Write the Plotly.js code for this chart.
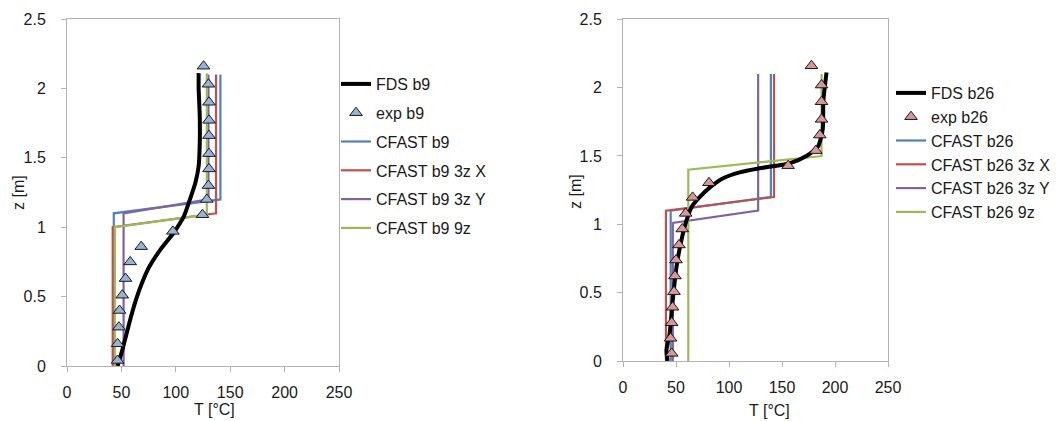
<!DOCTYPE html>
<html>
<head>
<meta charset="utf-8">
<script src="https://cdn.plot.ly/plotly-3.0.1.min.js"></script>
<style>html,body{margin:0;padding:0;background:#fff;}#chart{width:1056px;height:421px;}</style>
</head>
<body>
<div id="chart"></div>
<script>
// ---- Left chart (b9) ----
var fdsB9_T = [46.5, 51, 55, 59, 63.5, 69, 76, 86, 98, 107.5, 113, 118, 121, 122, 122, 121, 121];
var fdsB9_z = [0.0, 0.12, 0.24, 0.36, 0.48, 0.6, 0.72, 0.84, 0.96, 1.08, 1.2, 1.32, 1.44, 1.6, 1.8, 2.0, 2.11];

var expB9_T = [46.5, 46.5, 47.7, 48.3, 50.8, 53.8, 58.1, 68.2, 97.3, 124.5, 128.5, 130, 130.5, 130.5, 130.5, 130.5, 130.5, 130, 125.5];
var expB9_z = [0.04, 0.16, 0.28, 0.40, 0.51, 0.63, 0.75, 0.86, 0.97, 1.09, 1.20, 1.30, 1.42, 1.53, 1.66, 1.77, 1.90, 2.03, 2.16];

var cfastB9_T = [43, 43, 141, 141];
var cfastB9_z = [0, 1.1, 1.2, 2.1];
var cfastB9X_T = [42, 42, 137, 137];
var cfastB9X_z = [0, 1.0, 1.1, 2.1];
var cfastB9Y_T = [52, 52, 130, 130];
var cfastB9Y_z = [0, 1.1, 1.2, 2.1];
var cfastB99z_T = [44, 44, 128.5, 128.5];
var cfastB99z_z = [0, 1.0, 1.09, 2.11];

// ---- Right chart (b26) ----
var fdsB26_T = [42, 41, 44, 47, 50.5, 55, 60, 65, 72.5, 82, 94, 110, 129, 157, 173, 184, 188.5, 189, 192];
var fdsB26_z = [0, 0.08, 0.2, 0.45, 0.69, 0.88, 1.03, 1.13, 1.2, 1.27, 1.335, 1.38, 1.41, 1.446, 1.5, 1.57, 1.7, 1.9, 2.11];

var expB26_T = [45.9, 44.9, 45.9, 46.8, 48.1, 49, 50, 52.8, 55.9, 59.1, 65.7, 81.1, 155.8, 181.9, 185.7, 187.3, 187.3, 187.3, 177.8];
var expB26_z = [0.056, 0.166, 0.28, 0.393, 0.507, 0.622, 0.739, 0.849, 0.966, 1.08, 1.197, 1.304, 1.429, 1.539, 1.653, 1.768, 1.897, 2.019, 2.16];

var cfastB26_T = [45, 45, 139.5, 139.5];
var cfastB26_z = [0, 1.1, 1.2, 2.1];
var cfastB26X_T = [40.5, 40.5, 142.5, 142.5];
var cfastB26X_z = [0, 1.1, 1.2, 2.1];
var cfastB26Y_T = [47, 47, 127.5, 127.5];
var cfastB26Y_z = [0, 1.01, 1.1, 2.1];
var cfastB269z_T = [61.6, 61.6, 187.3, 187.3];
var cfastB269z_z = [0, 1.4, 1.5, 2.1];

var xTicks = [0, 50, 100, 150, 200, 250];
var yTicks = [0, 0.5, 1, 1.5, 2, 2.5];
var yTickText = ['0', '0.5', '1', '1.5', '2', '2.5'];
var xTitle = 'T [°C]';
var yTitle = 'z [m]';

var BLUE = '#4F81BD', RED = '#C0504D', PURPLE = '#8064A2', GREEN = '#9BBB59';
var FONT = 'Liberation Sans, Arial, sans-serif';
var TXT = '#1a1a1a';

function line(x, y, name, color, width, xa, ya, leg, rank, smooth) {
  var t = {x: x, y: y, name: name, mode: 'lines', type: 'scatter',
    line: {color: color, width: width}, xaxis: xa, yaxis: ya, legend: leg, legendgroup: name, legendrank: rank};
  if (smooth) { t.line.shape = 'spline'; t.line.smoothing = 0.6; }
  return t;
}
function markers(x, y, name, fill, xa, ya, leg, rank) {
  return {x: x, y: y, name: name, mode: 'markers', type: 'scatter',
    marker: {symbol: 'triangle-up', size: 11, color: fill, line: {color: '#1a1a1a', width: 1}},
    xaxis: xa, yaxis: ya, legend: leg, legendgroup: name, legendrank: rank};
}

var data = [
  line(cfastB9_T, cfastB9_z, 'CFAST b9', BLUE, 2.2, 'x', 'y', 'legend', 3),
  line(cfastB9X_T, cfastB9X_z, 'CFAST b9 3z X', RED, 2.2, 'x', 'y', 'legend', 4),
  line(cfastB9Y_T, cfastB9Y_z, 'CFAST b9 3z Y', PURPLE, 2.2, 'x', 'y', 'legend', 5),
  line(cfastB99z_T, cfastB99z_z, 'CFAST b9 9z', GREEN, 2.2, 'x', 'y', 'legend', 6),
  line(fdsB9_T, fdsB9_z, 'FDS b9', '#000000', 4, 'x', 'y', 'legend', 1, true),
  markers(expB9_T, expB9_z, 'exp b9', '#95B3D7', 'x', 'y', 'legend', 2),

  line(cfastB26_T, cfastB26_z, 'CFAST b26', BLUE, 2.2, 'x2', 'y2', 'legend2', 3),
  line(cfastB26X_T, cfastB26X_z, 'CFAST b26 3z X', RED, 2.2, 'x2', 'y2', 'legend2', 4),
  line(cfastB26Y_T, cfastB26Y_z, 'CFAST b26 3z Y', PURPLE, 2.2, 'x2', 'y2', 'legend2', 5),
  line(cfastB269z_T, cfastB269z_z, 'CFAST b26 9z', GREEN, 2.2, 'x2', 'y2', 'legend2', 6),
  line(fdsB26_T, fdsB26_z, 'FDS b26', '#000000', 4, 'x2', 'y2', 'legend2', 1, true),
  markers(expB26_T, expB26_z, 'exp b26', '#D99694', 'x2', 'y2', 'legend2', 2)
];

var W = 1056, H = 421, ML = 67, MR = 0, MT = 19, MB = 55;
var PW = W - ML - MR, PH = H - MT - MB;
function px(x) { return (x - ML) / PW; }
function py(y) { return (H - MB - y) / PH; }

function xaxis(domain, anchor) {
  return {domain: domain, anchor: anchor, range: [0, 250], tickvals: xTicks, ticktext: xTicks.map(String),
    showgrid: false, zeroline: false, showline: true, linecolor: '#b3b3b3', linewidth: 1, mirror: true,
    ticks: 'outside', ticklen: 5, tickcolor: '#b3b3b3', ticklabelstandoff: 7,
    tickfont: {family: FONT, size: 16, color: TXT}};
}
function yaxis(domain, anchor) {
  return {domain: domain, anchor: anchor, range: [0, 2.5], tickvals: yTicks, ticktext: yTickText,
    showgrid: false, zeroline: false, showline: true, linecolor: '#b3b3b3', linewidth: 1, mirror: true,
    ticks: 'outside', ticklen: 5, tickcolor: '#b3b3b3', ticklabelstandoff: 12,
    tickfont: {family: FONT, size: 16, color: TXT}};
}
function title(text, x, y, rot) {
  return {text: text, xref: 'paper', yref: 'paper', x: px(x), y: py(y), xanchor: 'center', yanchor: 'middle',
    showarrow: false, textangle: rot, font: {family: FONT, size: 16, color: TXT}};
}

var layout = {
  width: W, height: H,
  margin: {l: ML, r: MR, t: MT, b: MB},
  paper_bgcolor: '#ffffff', plot_bgcolor: '#ffffff',
  showlegend: true,
  xaxis: xaxis([px(67), px(339)], 'y'),
  yaxis: yaxis([py(366), py(19)], 'x'),
  xaxis2: xaxis([px(623), px(888)], 'y2'),
  yaxis2: yaxis([py(361), py(19.3)], 'x2'),
  annotations: [
    title(xTitle, 214, 409, 0),
    title(yTitle, 18, 193, -90),
    title(xTitle, 769, 410, 0),
    title(yTitle, 575, 192, -90)
  ],
  legend: {x: px(336), y: py(67), xanchor: 'left', yanchor: 'top', bgcolor: 'rgba(0,0,0,0)',
    font: {family: FONT, size: 16, color: TXT}, tracegroupgap: 5, itemwidth: 30},
  legend2: {x: 1, y: py(76), xanchor: 'right', yanchor: 'top', bgcolor: 'rgba(0,0,0,0)',
    font: {family: FONT, size: 16, color: TXT}, tracegroupgap: 0, itemwidth: 30}
};

Plotly.newPlot('chart', data, layout, {displayModeBar: false, staticPlot: true});
</script>
</body>
</html>
